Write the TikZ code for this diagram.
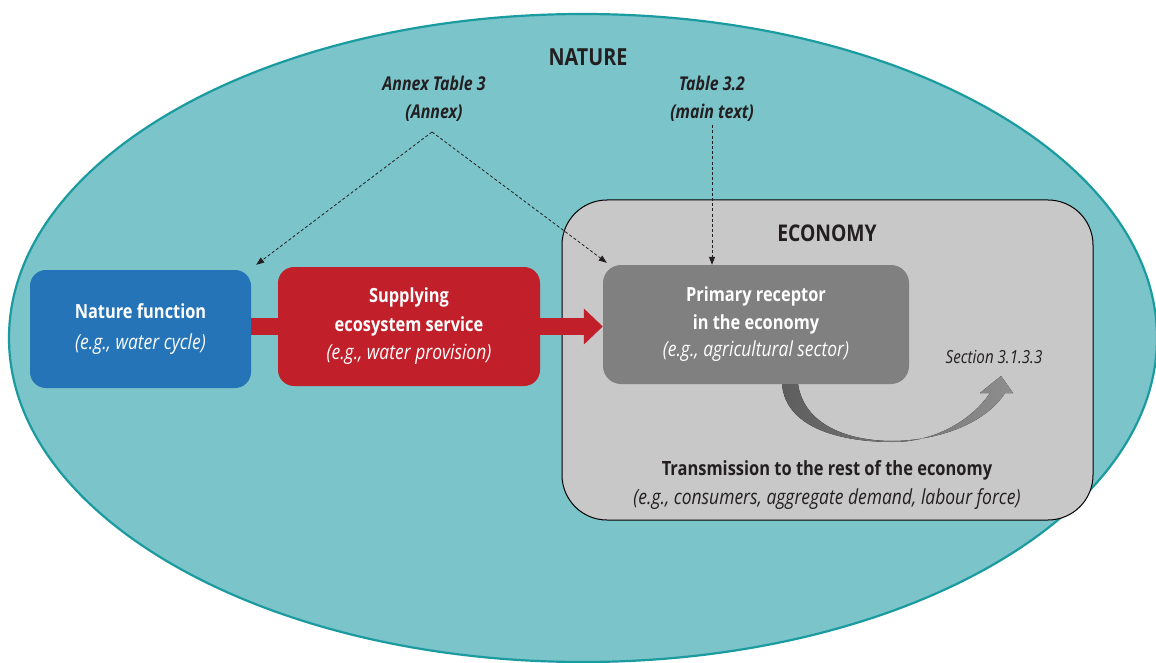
\documentclass[tikz,border=0pt]{standalone}
\usepackage{fontspec}
\setmainfont{Open Sans}[FakeStretch=0.84]
\usetikzlibrary{arrows.meta}
\definecolor{natfill}{HTML}{7AC4CA}
\definecolor{natline}{HTML}{1A9BA0}
\definecolor{bluebox}{HTML}{2574B8}
\definecolor{redbox}{HTML}{C1202A}
\definecolor{ecofill}{HTML}{C8C8C8}
\definecolor{primfill}{HTML}{808080}
\definecolor{txt}{HTML}{231F20}
\definecolor{arrdark}{HTML}{5E5E5E}
\definecolor{arrlight}{HTML}{8E8E8E}
\tikzset{
  mainbox/.style={rounded corners=16pt, text=white, align=center, inner sep=0pt},
  heading/.style={font=\bfseries\fontsize{23.5}{26}\selectfont, text=txt},
  reflabel/.style={font=\bfseries\itshape\fontsize{19}{28}\selectfont, text=txt, align=center},
  dasharrow/.style={dash pattern=on 3pt off 2.2pt, line width=0.8pt, txt, -{Triangle[length=8pt,width=6pt]}},
  redlink/.style={redbox, line width=17pt},
}
\newcommand{\eg}[1]{{\mdseries\itshape\fontsize{20.8}{28}\selectfont #1}}
\begin{document}
\begin{tikzpicture}[x=1pt,y=-1pt]
\useasboundingbox (0,0) rectangle (1156,663);
% nature ellipse
\draw[natline, line width=2.2pt, fill=natfill] (583,338) ellipse [x radius=574, y radius=324];
\node[heading] (nature) at (588,57) {NATURE};
% economy box
\node[draw=black, line width=1pt, fill=ecofill, rounded corners=45pt,
      minimum width=531pt, minimum height=320pt] (eco) at (827.5,360) {};
\node[heading, font=\bfseries\fontsize{23}{26}\selectfont] (ecotitle) at (827,233) {ECONOMY};
% boxes
\node[mainbox, fill=bluebox, minimum width=221pt, minimum height=118pt,
      font=\bfseries\fontsize{19.5}{31}\selectfont] (nat) at (140.5,329)
      {Nature function\\ \eg{(e.g., water cycle)}};
\node[mainbox, fill=redbox, minimum width=262pt, minimum height=119pt,
      font=\bfseries\fontsize{19.5}{28.5}\selectfont] (sup) at (409,326.5)
      {Supplying\\ ecosystem service\\ \eg{(e.g., water provision)}};
\node[mainbox, rounded corners=18pt, fill=primfill, minimum width=306pt, minimum height=119pt,
      font=\bfseries\fontsize{19.5}{27.5}\selectfont] (prim) at (756,324.5)
      {Primary receptor\\ in the economy\\ \eg{(e.g., agricultural sector)}};
% red links
\draw[redlink] (nat.east |- sup.west) -- (sup.west);
\draw[redlink, -{Triangle[length=19pt,width=35pt]}] (sup.east) -- (sup.east -| prim.west);
% reference labels
\node[reflabel] (annex) at (434,99) {Annex Table 3\\(Annex)};
\node[reflabel] (tab) at (712,99) {Table 3.2\\(main text)};
\coordinate (apex) at (432,132);
\coordinate (natend) at ([shift={(5pt,5pt)}]nat.north east);
\coordinate (primend) at ([shift={(4pt,2pt)}]prim.north west);
\draw[dasharrow] (apex) -- (natend);
\draw[dasharrow] (apex) -- (primend);
\draw[dasharrow] (tab.south) -- (tab.south |- prim.north);
% curved transmission arrow
\coordinate (cstart) at ([xshift=26pt]prim.south);
\fill[left color=arrdark, right color=arrlight]
  (cstart) .. controls (786,430) and (845,442) .. (893,442)
  .. controls (935,442) and (972,420) .. (990,393)
  -- (980,393) -- (1001,376) -- (1013,393) -- (1005,393)
  .. controls (985,424) and (938,440.5) .. (893,441)
  .. controls (846,441) and (804,424) .. (798,384) -- cycle;
\node[font=\itshape\fontsize{18}{20}\selectfont, text=txt] (sect) at (994,357) {Section 3.1.3.3};
% transmission text
\node[font=\bfseries\fontsize{19.6}{29}\selectfont, text=txt, align=center] (trans) at (827,485)
  {Transmission to the rest of the economy\\ \eg{(e.g., consumers, aggregate demand, labour force)}};
\end{tikzpicture}
\end{document}
